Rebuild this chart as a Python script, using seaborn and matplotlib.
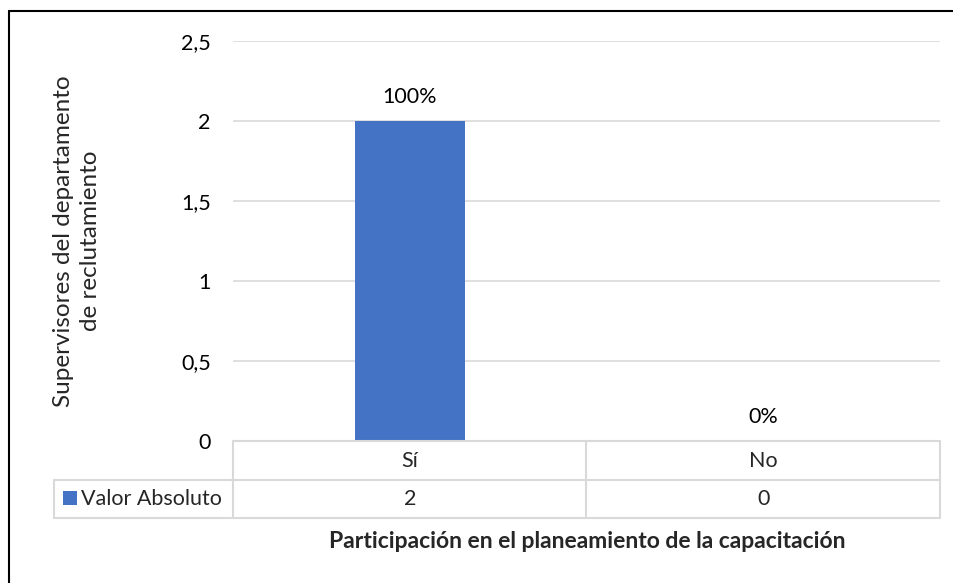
import matplotlib
matplotlib.use("Agg")
import matplotlib.pyplot as plt
import matplotlib.transforms as mtransforms
from matplotlib.lines import Line2D
from matplotlib.patches import Rectangle
import seaborn as sns
import pandas as pd

# datos
categorias = ["Sí", "No"]
valores = [2, 0]
porcentajes = ["100%", "0%"]
serie = "Valor Absoluto"
titulo_x = "Participación en el planeamiento de la capacitación"
titulo_y = "Supervisores del departamento\nde reclutamiento"
ticks_y = [0, 0.5, 1, 1.5, 2, 2.5]
etiquetas_y = ["0", "0,5", "1", "1,5", "2", "2,5"]

AZUL = "#4472c4"
GRIS = "#d9d9d9"
W, H = 954, 583
FS = 15.5

sns.set_theme(style="white")
plt.rcParams["font.family"] = ["Lato", "DejaVu Sans"]

fig = plt.figure(figsize=(W / 100, H / 100), dpi=100)


def fx(x):
    return x / W


def fy(y):
    return 1 - y / H


ax = fig.add_axes([fx(233), fy(441), fx(940) - fx(233), fy(41) - fy(441)])

df = pd.DataFrame({"cat": categorias, "val": valores})
sns.barplot(data=df, x="cat", y="val", color=AZUL, width=0.31, saturation=1,
            linewidth=0, ax=ax)

ax.set_ylim(0, 2.5)
ax.set_xlim(-0.5, len(categorias) - 0.5)
ax.set_yticks(ticks_y)
ax.set_yticklabels(etiquetas_y, fontsize=FS, color="#000000")
ax.tick_params(axis="y", length=0, pad=16)
ax.set_xticks([])
ax.set_xlabel("")
ax.set_ylabel("")
for t in ticks_y[1:]:
    ax.axhline(t, color=GRIS, lw=1.2, zorder=0)
for s in ax.spines.values():
    s.set_visible(False)

# etiquetas de porcentaje
for i, (v, p) in enumerate(zip(valores, porcentajes)):
    ax.annotate(p, (i, v), xytext=(0, 24), textcoords="offset pixels",
                ha="center", va="center", fontsize=FS, color="#000000")

# tabla de datos
def linea(x0, y0, x1, y1):
    fig.add_artist(Line2D([fx(x0), fx(x1)], [fy(y0), fy(y1)], color=GRIS, lw=1.5))

linea(233, 441, 940, 441)
linea(54, 480, 940, 480)
linea(54, 518, 940, 518)
for x in (233, 586, 940):
    linea(x, 441, x, 518)
linea(54, 480, 54, 518)

tr = mtransforms.blended_transform_factory(ax.transData, fig.transFigure)
for i, (c, v) in enumerate(zip(categorias, valores)):
    fig.text(i, fy(461), c, transform=tr, ha="center", va="center", fontsize=FS)
    fig.text(i, fy(499), str(v), transform=tr, ha="center", va="center", fontsize=FS)

fig.add_artist(Rectangle((fx(63), fy(505)), fx(14), fy(491) - fy(505),
                         facecolor=AZUL, edgecolor="none"))
fig.text(fx(81), fy(499), serie, ha="left", va="center", fontsize=FS)

# títulos
fig.text(fx(587), fy(541), titulo_x, ha="center", va="center",
         fontsize=16.5, fontweight="bold")
fig.text(fx(77), fy(241), titulo_y, ha="center", va="center", rotation=90,
         fontsize=17.5, linespacing=1.3, multialignment="center")

# marco
fig.add_artist(Line2D([fx(9), fx(9)], [fy(11), 0], color="black", lw=1.5))
fig.add_artist(Line2D([fx(9), 1], [fy(11), fy(11)], color="black", lw=1.5))

fig.savefig("out.png", dpi=100)
